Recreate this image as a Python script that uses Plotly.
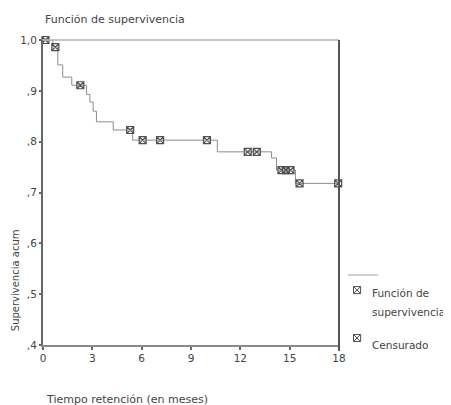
import plotly.graph_objects as go

# Kaplan-Meier step curve (time in months, cumulative survival)
step_times = [0, 0.6, 0.9, 1.2, 1.75, 2.65, 2.85, 3.05, 3.25, 4.27, 5.45, 10.6, 13.9, 14.2, 15.35, 18]
step_surv = [1.0, 0.986, 0.951, 0.927, 0.911, 0.893, 0.878, 0.86, 0.839, 0.823, 0.803, 0.780, 0.768, 0.744, 0.718, 0.718]

# Censored observations
cens_times = [0.15, 0.75, 2.27, 5.3, 6.06, 7.12, 9.97, 12.45, 13.0, 14.5, 14.76, 15.05, 15.6, 17.95]
cens_surv = [1.0, 0.986, 0.911, 0.823, 0.803, 0.803, 0.803, 0.780, 0.780, 0.744, 0.744, 0.744, 0.718, 0.718]

x_ticks = [0, 3, 6, 9, 12, 15, 18]
y_ticks = [0.4, 0.5, 0.6, 0.7, 0.8, 0.9, 1.0]
y_ticktext = [",4", ",5", ",6", ",7", ",8", ",9", "1,0"]

FONT = "DejaVu Sans, Verdana, sans-serif"
TXT = "#444444"
FS = 10.5
FS_T = 11

fig = go.Figure()
fig.add_trace(go.Scatter(
    x=step_times, y=step_surv, mode="lines", line_shape="hv",
    line=dict(color="#8c8c8c", width=1), cliponaxis=False, showlegend=False,
    hoverinfo="skip"))
fig.add_trace(go.Scatter(
    x=cens_times, y=cens_surv, mode="markers",
    marker=dict(symbol="square-x-open", size=7, color="#505050", line=dict(width=1.2, color="#505050")),
    cliponaxis=False, showlegend=False))

# page body has an 8px margin, so the figure is sized/placed to compensate
fig.update_layout(
    width=443, height=397,
    margin=dict(l=35, r=112, t=32, b=60, autoexpand=False),
    paper_bgcolor="white", plot_bgcolor="white",
    font=dict(family=FONT, size=FS, color=TXT),
    showlegend=False,
)
fig.update_xaxes(
    range=[0, 18], tickvals=x_ticks, ticktext=[str(v) for v in x_ticks],
    showgrid=False, zeroline=False, showline=True, linecolor="#8a8a8a", linewidth=1.5,
    ticks="outside", ticklen=3, tickcolor="#666", tickwidth=1.5, automargin=False,
    tickfont=dict(family=FONT, size=FS, color=TXT),
)
fig.update_yaxes(
    range=[0.4, 1.0], tickvals=y_ticks, ticktext=y_ticktext,
    showgrid=False, zeroline=False, showline=True, linecolor="#666666", linewidth=2,
    ticks="outside", ticklen=2, tickcolor="#666", tickwidth=1.5, automargin=False,
    tickfont=dict(family=FONT, size=FS, color=TXT),
)

# frame: top (light) and right (dark)
fig.add_shape(type="line", xref="paper", yref="paper", x0=0, x1=1, y0=1, y1=1,
              line=dict(color="#b0b0b0", width=1.5))
fig.add_shape(type="line", xref="paper", yref="paper", x0=1, x1=1, y0=-0.02, y1=1,
              line=dict(color="#555555", width=2))

ann = [
    dict(text="Función de supervivencia", x=0, y=1.066, xanchor="left", yanchor="middle", size=FS_T),
    dict(text="Tiempo retención (en meses)", x=0.005, y=-0.18, xanchor="left", yanchor="middle", size=FS_T),
    dict(text="Supervivencia acum", x=-0.094, y=0.213, xanchor="center", yanchor="middle", textangle=-90, size=10),
    dict(text="Función de", x=1.105, y=0.17, xanchor="left", yanchor="middle", size=FS),
    dict(text="supervivencia", x=1.105, y=0.108, xanchor="left", yanchor="middle", size=FS),
    dict(text="Censurado", x=1.105, y=0.0, xanchor="left", yanchor="middle", size=FS),
]
for a in ann:
    sz = a.pop("size")
    fig.add_annotation(xref="paper", yref="paper", showarrow=False,
                       font=dict(family=FONT, size=sz, color=TXT), **a)

# custom legend graphics
fig.add_shape(type="line", xref="paper", yref="paper", x0=1.030, x1=1.132, y0=0.2295, y1=0.2295,
              line=dict(color="#a0a0a0", width=1))
for ly in (0.180, 0.023):
    hx, hy = 0.012, 0.0115
    cx = 1.061
    fig.add_shape(type="rect", xref="paper", yref="paper", x0=cx - hx, x1=cx + hx, y0=ly - hy, y1=ly + hy,
                  line=dict(color="#505050", width=1))
    fig.add_shape(type="line", xref="paper", yref="paper", x0=cx - hx, x1=cx + hx, y0=ly - hy, y1=ly + hy,
                  line=dict(color="#505050", width=1))
    fig.add_shape(type="line", xref="paper", yref="paper", x0=cx - hx, x1=cx + hx, y0=ly + hy, y1=ly - hy,
                  line=dict(color="#505050", width=1))

fig.write_html("out.html")
